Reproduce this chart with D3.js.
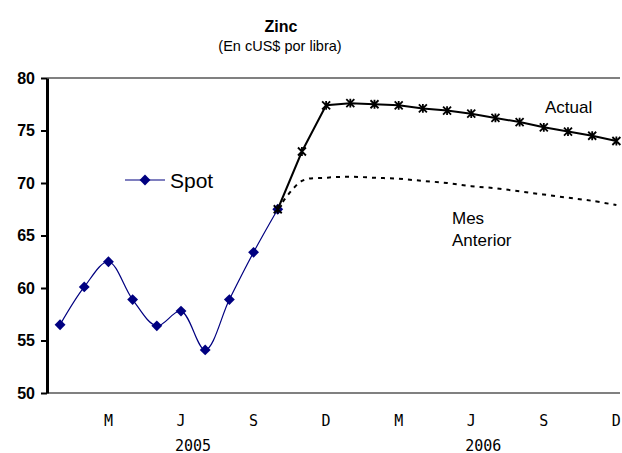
<!DOCTYPE html>
<html>
<head>
<meta charset="utf-8">
<script src="https://cdn.jsdelivr.net/npm/d3@7"></script>
<style>
  body { margin: 0; background: #fff; }
  text { font-family: "Liberation Sans", Arial, sans-serif; }
</style>
</head>
<body>
<svg id="chart" width="622" height="453"></svg>
<script>
// month index 0 = Jan 2005 ... 23 = Dec 2006
const spotMonths = [0, 1, 2, 3, 4, 5, 6, 7, 8, 9];
const spotValues = [56.5, 60.1, 62.5, 58.9, 56.4, 57.8, 54.1, 58.9, 63.4, 67.5];

const futMonths = [9, 10, 11, 12, 13, 14, 15, 16, 17, 18, 19, 20, 21, 22, 23];
const actualValues = [67.5, 73.0, 77.4, 77.6, 77.5, 77.4, 77.1, 76.9, 76.6, 76.2, 75.8, 75.3, 74.9, 74.5, 74.0];
const prevValues = [67.5, 70.2, 70.5, 70.6, 70.5, 70.4, 70.2, 70.0, 69.7, 69.5, 69.2, 68.9, 68.6, 68.3, 67.9];

const monthTicks = [2, 5, 8, 11, 14, 17, 20, 23];
const monthLabels = ["M", "J", "S", "D", "M", "J", "S", "D"];
const years = [{ label: "2005", from: 0, to: 11 }, { label: "2006", from: 12, to: 23 }];
const yTicks = [50, 55, 60, 65, 70, 75, 80];

const svg = d3.select('#chart');
const margin = { left: 47, right: 2, top: 78, bottom: 60 };
const width = +svg.attr('width');
const height = +svg.attr('height');
const innerWidth = width - margin.left - margin.right;
const innerHeight = height - margin.top - margin.bottom;

const g = svg.append('g')
    .attr('transform', `translate(${margin.left},${margin.top})`);

const xScale = d3.scaleLinear()
    .domain([-0.54, 23.15])
    .range([0, innerWidth]);

const yScale = d3.scaleLinear()
    .domain([50, 80])
    .range([innerHeight, 0]);

// titles
svg.append('text')
    .attr('x', 281).attr('y', 32)
    .attr('text-anchor', 'middle')
    .style('font-size', '16px').style('font-weight', 'bold')
    .text('Zinc');
svg.append('text')
    .attr('x', 280).attr('y', 51)
    .attr('text-anchor', 'middle')
    .style('font-size', '14.5px')
    .text('(En cUS$ por libra)');

// top gridline and bottom axis line
g.append('line')
    .attr('x1', 0).attr('x2', innerWidth)
    .attr('y1', yScale(80)).attr('y2', yScale(80))
    .attr('stroke', '#808080').attr('stroke-width', 2);
g.append('line')
    .attr('x1', 0).attr('x2', innerWidth)
    .attr('y1', yScale(50)).attr('y2', yScale(50))
    .attr('stroke', '#808080').attr('stroke-width', 2);

// y axis
const yAxis = d3.axisLeft(yScale)
    .tickValues(yTicks)
    .tickSize(6)
    .tickPadding(6)
    .tickSizeOuter(0);
const yAxisG = g.append('g').call(yAxis);
yAxisG.select('.domain').attr('stroke', '#000').attr('stroke-width', 3);
yAxisG.selectAll('.tick line').attr('stroke', '#000').attr('stroke-width', 2);
yAxisG.selectAll('.tick text')
    .style('font-family', '"Liberation Sans", Arial, sans-serif')
    .style('font-size', '16px').style('font-weight', 'bold')
    .attr('fill', '#000');

// x labels
g.selectAll('.month-label')
    .data(monthTicks)
    .join('text')
    .attr('class', 'month-label')
    .attr('x', d => xScale(d))
    .attr('y', innerHeight + 33)
    .attr('text-anchor', 'middle')
    .style('font-family', '"DejaVu Sans Mono", monospace')
    .style('font-size', '15px')
    .text((d, i) => monthLabels[i]);

g.selectAll('.year-label')
    .data(years)
    .join('text')
    .attr('class', 'year-label')
    .attr('x', d => (xScale(d.from) + xScale(d.to)) / 2)
    .attr('y', innerHeight + 58)
    .attr('text-anchor', 'middle')
    .style('font-family', '"DejaVu Sans Mono", monospace')
    .style('font-size', '15px')
    .text(d => d.label);

// mes anterior (dotted)
g.append('path')
    .datum(futMonths.map((m, i) => [m, prevValues[i]]))
    .attr('fill', 'none')
    .attr('stroke', '#000')
    .attr('stroke-width', 2)
    .attr('stroke-dasharray', '4,5')
    .attr('d', d3.line()
        .x(d => xScale(d[0]))
        .y(d => yScale(d[1]))
        .curve(d3.curveCatmullRom.alpha(0.5)));

// spot (smoothed)
const spotData = spotMonths.map((m, i) => [m, spotValues[i]]);
g.append('path')
    .datum(spotData)
    .attr('fill', 'none')
    .attr('stroke', '#000080')
    .attr('stroke-width', 1.2)
    .attr('d', d3.line()
        .x(d => xScale(d[0]))
        .y(d => yScale(d[1]))
        .curve(d3.curveCatmullRom.alpha(0.5)));

const diamond = d3.symbol().type(d3.symbolDiamond2).size(75);
g.selectAll('.spot-pt')
    .data(spotData)
    .join('path')
    .attr('class', 'spot-pt')
    .attr('transform', d => `translate(${xScale(d[0])},${yScale(d[1])})`)
    .attr('d', diamond)
    .attr('fill', '#000080');

// actual
const actualData = futMonths.map((m, i) => [m, actualValues[i]]);
g.append('path')
    .datum(actualData)
    .attr('fill', 'none')
    .attr('stroke', '#000')
    .attr('stroke-width', 2)
    .attr('d', d3.line()
        .x(d => xScale(d[0]))
        .y(d => yScale(d[1])));

const star = {
    draw(ctx, size) {
        const r = Math.sqrt(size) / 2;
        ctx.moveTo(-r, -r); ctx.lineTo(r, r);
        ctx.moveTo(-r, r); ctx.lineTo(r, -r);
        ctx.moveTo(0, -r * 1.1); ctx.lineTo(0, r * 1.1);
    }
};
g.selectAll('.act-pt')
    .data(actualData)
    .join('path')
    .attr('class', 'act-pt')
    .attr('transform', d => `translate(${xScale(d[0])},${yScale(d[1])})`)
    .attr('d', d3.symbol().type(star).size(64))
    .attr('fill', 'none')
    .attr('stroke', '#000')
    .attr('stroke-width', 1.8);

// labels
svg.append('text')
    .attr('x', 545).attr('y', 113)
    .style('font-size', '17px')
    .text('Actual');
svg.append('text')
    .attr('x', 452).attr('y', 224)
    .style('font-size', '17px')
    .text('Mes');
svg.append('text')
    .attr('x', 452).attr('y', 246)
    .style('font-size', '17px')
    .text('Anterior');

// legend
const lg = svg.append('g').attr('transform', 'translate(125,180)');
lg.append('line')
    .attr('x1', 0).attr('x2', 40)
    .attr('stroke', '#000080').attr('stroke-width', 1.2);
lg.append('path')
    .attr('transform', 'translate(20,0)')
    .attr('d', diamond)
    .attr('fill', '#000080');
lg.append('text')
    .attr('x', 45).attr('y', 8)
    .style('font-size', '21px')
    .text('Spot');
</script>
</body>
</html>
